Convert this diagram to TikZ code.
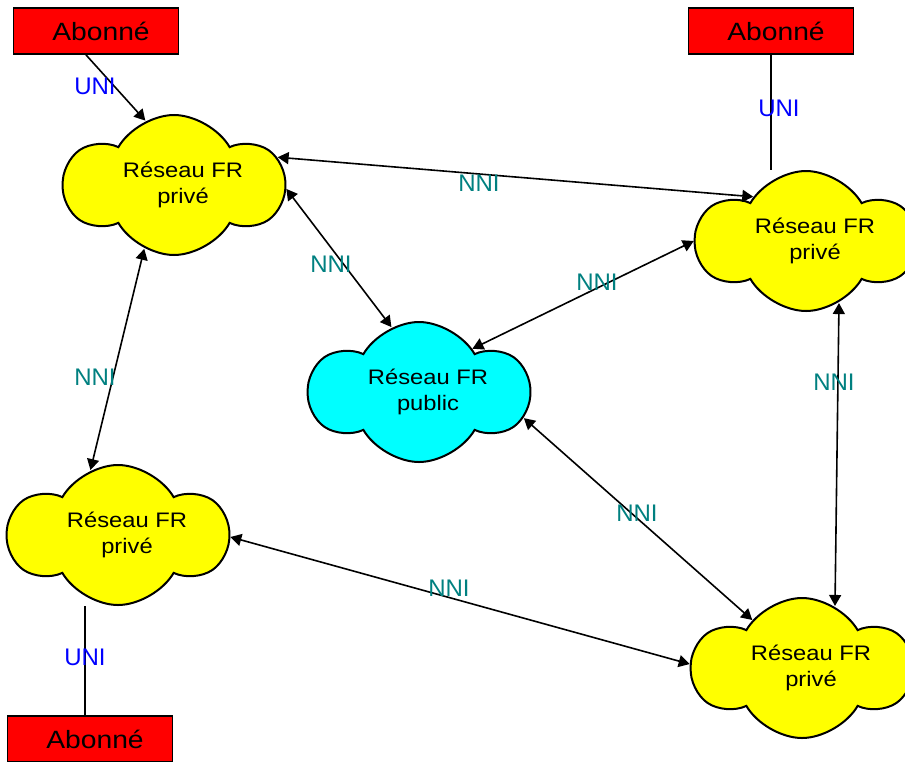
\documentclass[tikz,border=0pt]{standalone}
\usepackage{fontspec}
\setmainfont{Liberation Sans}
\newfontfamily\widefont[FakeStretch=1.13]{Liberation Sans}
\usetikzlibrary{shapes.symbols,arrows.meta}
\definecolor{uniblue}{RGB}{0,0,255}
\definecolor{nniteal}{RGB}{0,128,128}
\definecolor{cloudyellow}{RGB}{255,255,0}
\definecolor{cloudcyan}{RGB}{0,255,255}
\tikzset{
  abonne/.style={draw=black, line width=1.8pt, fill=red, minimum width=165pt, minimum height=46pt, inner sep=0pt, font=\widefont\fontsize{25}{26}\selectfont},
  reseau/.style={cloud, cloud puffs=6, cloud puff arc=120, aspect=1.6, draw=black, line width=2pt, fill=cloudyellow, minimum width=218pt, minimum height=140pt, inner sep=0pt},
  cloudtext/.style={align=center, xshift=9pt, inner sep=0pt, font=\widefont\fontsize{21}{26}\selectfont},
  conn/.style={draw=black, line width=1.6pt},
  dbl/.style={conn, {Triangle[width=12pt,length=11pt]}-{Triangle[width=12pt,length=11pt]}},
  sgl/.style={conn, -{Triangle[width=12pt,length=11pt]}},
  uni/.style={text=uniblue, font=\fontsize{24}{26}\selectfont, inner sep=0pt},
  nni/.style={text=nniteal, font=\fontsize{24}{26}\selectfont, inner sep=0pt}
}
\begin{document}
\begin{tikzpicture}[x=1pt,y=-1pt]
\useasboundingbox (0,0) rectangle (905,761);
% clouds
\node[reseau, label={[cloudtext]center:Réseau FR\\privé}] (tl) at (174,185) {};
\node[reseau, label={[cloudtext]center:Réseau FR\\privé}] (tr) at (806,241) {};
\node[reseau, fill=cloudcyan, label={[cloudtext]center:Réseau FR\\public}] (pub) at (419,392) {};
\node[reseau, label={[cloudtext]center:Réseau FR\\privé}] (bl) at (118,535) {};
\node[reseau, label={[cloudtext]center:Réseau FR\\privé}] (br) at (802,668) {};
% subscribers
\node[abonne] (abtl) at (96,31) {\hspace*{10pt}Abonné};
\node[abonne] (abtr) at (771,31) {\hspace*{10pt}Abonné};
\node[abonne] (abbl) at (90,739) {\hspace*{10pt}Abonné};
% UNI links
\draw[sgl] (abtl.south) ++(-10,0) coordinate (abtls) (abtls) -- (tl.114.6);
\draw[conn] (abtr.south) -- (abtr.south |- tr.north);
\draw[conn] (abbl.north) ++(-5,0) coordinate (abbln) (abbln) -- (abbln |- bl.south);
% NNI links
\draw[dbl] (tl.15.2) -- (tr.140.2);
\draw[dbl] (tl.-2.6) -- (pub.113.2);
\draw[dbl] (pub.39.8) -- (tr.180);
\draw[dbl] (tl.245.4) -- (bl.113.5);
\draw[dbl] (tr.-62.1) -- (br.62.8);
\draw[dbl] (pub.-14) -- (br.136.5);
\draw[dbl] (bl.-1.5) -- (br.178.9);
% labels
\node[uni] (u1) at (95,86) {UNI};
\node[uni] (u2) at (779,108) {UNI};
\node[uni] (u3) at (85,657) {UNI};
\node[nni] (n1) at (479,183) {NNI};
\node[nni] (n2) at (331,264) {NNI};
\node[nni] (n3) at (597,282) {NNI};
\node[nni] (n4) at (95,377) {NNI};
\node[nni] (n5) at (834,382) {NNI};
\node[nni] (n6) at (637,513) {NNI};
\node[nni] (n7) at (449,588) {NNI};
\end{tikzpicture}
\end{document}
